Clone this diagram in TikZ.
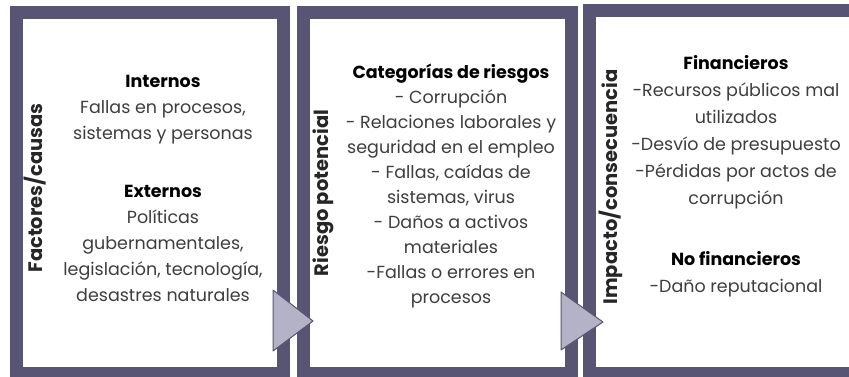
\documentclass[tikz,border=0pt]{standalone}
\usepackage{fontspec}
\setmainfont{Poppins}
\usetikzlibrary{positioning}
\definecolor{framegray}{RGB}{88,84,116}
\definecolor{arrowgray}{RGB}{180,178,199}
\definecolor{bodygray}{RGB}{62,62,62}
\newcommand{\hdr}[1]{{\color{black}\bfseries #1}}
\begin{document}
\begin{tikzpicture}[x=1pt, y=-1pt,
    every node/.style={inner sep=0pt, outer sep=0pt},
    panel/.style={draw=framegray, line width=13pt, fill=white},
    side/.style={rotate=90, text=black!85, font=\fontsize{19.5}{22}\selectfont\bfseries},
    body/.style={align=center, text=bodygray, font=\fontsize{17.5}{26}\selectfont},
    arrowtri/.style={draw=framegray, fill=arrowgray, line width=1pt, line join=round}]
\clip (0,0) rectangle (849,377);
\fill[white] (0,0) rectangle (849,377);

% three panels
\node[panel, minimum width=267pt, minimum height=360pt] (causas) at (149.5,193) {};
\node[panel, minimum width=268pt, minimum height=360pt] (riesgo) at (437,193) {};
\node[panel, minimum width=281pt, minimum height=362pt] (impacto) at (729.5,192) {};

% arrows between panels
\coordinate (tipA) at (313,321);
\coordinate (tipB) at (603,322);
\draw[arrowtri] (tipA) -- ++(-40,-31) -- ++(0,61) -- cycle;
\draw[arrowtri] (tipB) -- ++(-42,-30) -- ++(0,58) -- cycle;

% side titles
\node[side] (causasT) at (35,188) {Factores/causas};
\node[side] (riesgoT) at (323,193) {Riesgo potencial};
\node[side] (impactoT) at (611,187) {Impacto/consecuencia};

% contents
\node[body] (causasB) at (163,188) {\hdr{Internos}\\Fallas en procesos,\\sistemas y personas\\[32pt]
  \hdr{Externos}\\Políticas\\gubernamentales,\\legislación, tecnología,\\desastres naturales};
\node[body, font=\fontsize{17.5}{25}\selectfont] (riesgoB) at (451,186) {\hdr{Categorías de riesgos}\\- Corrupción\\
  - Relaciones laborales y\\seguridad en el empleo\\- Fallas, caídas de\\sistemas, virus\\
  - Daños a activos\\materiales\\-Fallas o errores en\\procesos};
\node[body, font=\fontsize{17.5}{27}\selectfont] (impactoB) at (736,176) {\hdr{Financieros}\\-Recursos públicos mal\\utilizados\\
  -Desvío de presupuesto\\-Pérdidas por actos de\\corrupción\\[34pt]
  \hdr{No financieros}\\-Daño reputacional};
\end{tikzpicture}
\end{document}
